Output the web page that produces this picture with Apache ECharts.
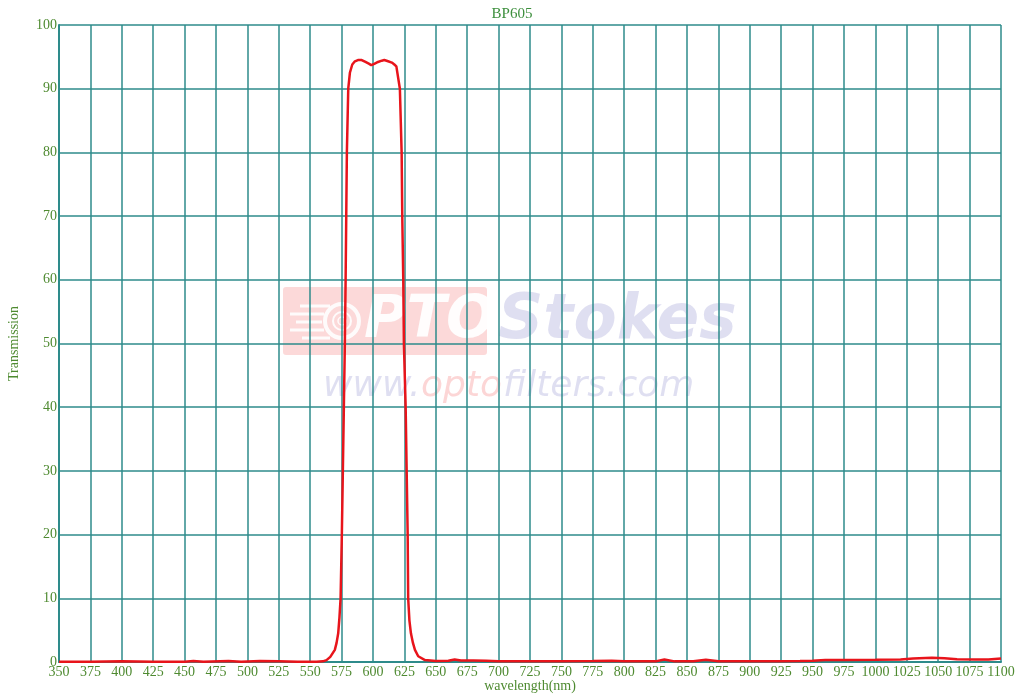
<!DOCTYPE html>
<html><head><meta charset="utf-8">
<script src="https://cdn.jsdelivr.net/npm/echarts@6/dist/echarts.min.js"></script>
<style>html,body{margin:0;padding:0;background:#fff}#c{width:1024px;height:698px}</style>
</head><body><div id="c"></div>
<script>
var chartTitle = 'BP605';
var xName = 'wavelength(nm)';
var yName = 'Transmission';
var wavelength = [350,375,400,425,450,457,465,485,495,510,525,540,555,560,563,566,569.6,571,572.3,573.3,574.2,575.2,576,576.8,577.6,578.2,578.7,579.2,580.3,581.6,583.5,585.6,588,591,594,597,598.6,601,604,607,609,612,615,617,618.6,619.6,621.4,622.8,623.3,624.1,624.6,626,626.8,627.6,628,629,630.2,631.8,633.4,636,641.4,650,660,665,670,680,690,700,725,750,775,790,800,825,832,840,855,865,875,900,925,940,950,960,975,1000,1020,1030,1045,1055,1065,1080,1090,1100];
var transmission = [0.05,0.05,0.1,0.05,0.05,0.15,0.05,0.15,0.05,0.15,0.1,0.05,0.05,0.1,0.3,0.8,1.9,3,4.5,7,10,20,30,40,50,60,70,80,90,92.5,93.8,94.3,94.5,94.5,94.2,93.9,93.7,93.9,94.2,94.4,94.5,94.3,94.1,93.8,93.5,93.2,90,80,70,60,50,40,30,20,10,6.5,4.5,3,1.9,0.9,0.3,0.15,0.2,0.4,0.25,0.25,0.2,0.1,0.1,0.1,0.15,0.2,0.1,0.1,0.4,0.1,0.1,0.35,0.1,0.1,0.1,0.15,0.2,0.3,0.3,0.35,0.4,0.55,0.65,0.6,0.45,0.4,0.4,0.55];
var xMin = 350, xMax = 1100, xStep = 25;
var yMin = 0, yMax = 100, yStep = 10;

var data = wavelength.map(function(w, i){ return [w, transmission[i]]; });
var gridColor = '#2e8b8b';
var labelColor = '#4e8a30';
var font = '"Liberation Serif", "DejaVu Serif", serif';
var wmBlue = 'rgba(140,140,205,0.28)';
var wmPink = 'rgba(245,120,120,0.3)';

var chart = echarts.init(document.getElementById('c'), null, {renderer:'canvas'});
chart.setOption({
  animation: false,
  title: {text: chartTitle, left: 'center', top: 2, textStyle: {color: '#3d8f3d', fontFamily: font, fontSize: 15, fontWeight: 'normal'}},
  grid: {left: 59, right: 23, top: 25, bottom: 36, containLabel: false, outerBoundsMode: 'none'},
  graphic: [
    {type: 'rect', z: -10, silent: true, shape: {x: 283, y: 287, width: 204, height: 68, r: 3}, style: {fill: 'rgba(245,120,120,0.28)'}},
    {type: 'circle', z: -9, silent: true, shape: {cx: 342, cy: 321, r: 17}, style: {fill: 'none', stroke: 'rgba(255,255,255,0.9)', lineWidth: 4}},
    {type: 'circle', z: -9, silent: true, shape: {cx: 342, cy: 321, r: 9}, style: {fill: 'none', stroke: 'rgba(255,255,255,0.9)', lineWidth: 2}},
    {type: 'circle', z: -9, silent: true, shape: {cx: 342, cy: 321, r: 4}, style: {fill: 'none', stroke: 'rgba(255,255,255,0.9)', lineWidth: 1.5}},
    {type: 'line', z: -9, silent: true, shape: {x1: 300, y1: 306, x2: 330, y2: 306}, style: {stroke: 'rgba(255,255,255,0.9)', lineWidth: 3}},
    {type: 'line', z: -9, silent: true, shape: {x1: 290, y1: 314, x2: 324, y2: 314}, style: {stroke: 'rgba(255,255,255,0.9)', lineWidth: 3}},
    {type: 'line', z: -9, silent: true, shape: {x1: 296, y1: 322, x2: 322, y2: 322}, style: {stroke: 'rgba(255,255,255,0.9)', lineWidth: 3}},
    {type: 'line', z: -9, silent: true, shape: {x1: 290, y1: 330, x2: 324, y2: 330}, style: {stroke: 'rgba(255,255,255,0.9)', lineWidth: 3}},
    {type: 'line', z: -9, silent: true, shape: {x1: 302, y1: 338, x2: 330, y2: 338}, style: {stroke: 'rgba(255,255,255,0.9)', lineWidth: 3}},
    {type: 'text', z: -9, silent: true, style: {x: 364, y: 322, text: 'PTO', fill: 'rgba(255,255,255,0.95)', font: 'italic bold 58px "DejaVu Sans", sans-serif', verticalAlign: 'middle'}},
    {type: 'text', z: -9, silent: true, style: {x: 498, y: 322, text: 'Stokes', fill: wmBlue, font: 'italic bold 63px "DejaVu Sans", sans-serif', verticalAlign: 'middle'}},
    {type: 'text', z: -9, silent: true, style: {x: 323, y: 387, text: 'www.', fill: wmBlue, font: 'italic 36px "DejaVu Sans", sans-serif', verticalAlign: 'middle'}},
    {type: 'text', z: -9, silent: true, style: {x: 421, y: 387, text: 'opto', fill: wmPink, font: 'italic 36px "DejaVu Sans", sans-serif', verticalAlign: 'middle'}},
    {type: 'text', z: -9, silent: true, style: {x: 503, y: 387, text: 'filters.com', fill: wmBlue, font: 'italic 36px "DejaVu Sans", sans-serif', verticalAlign: 'middle'}}
  ],
  xAxis: {
    type: 'value', min: xMin, max: xMax, interval: xStep,
    name: xName, nameLocation: 'middle', nameGap: 17, nameMoveOverlap: false,
    nameTextStyle: {color: labelColor, fontFamily: font, fontSize: 14},
    axisLine: {show: true, lineStyle: {color: gridColor, width: 2}},
    axisTick: {show: false},
    axisLabel: {color: labelColor, fontFamily: font, fontSize: 14, margin: 3, formatter: function(v){ return String(v); }},
    splitLine: {show: true, lineStyle: {color: gridColor, width: 1.5}}
  },
  yAxis: {
    type: 'value', min: yMin, max: yMax, interval: yStep,
    name: yName, nameLocation: 'middle', nameGap: 38, nameRotate: 90, nameMoveOverlap: false,
    nameTextStyle: {color: labelColor, fontFamily: font, fontSize: 14},
    axisLine: {show: true, lineStyle: {color: gridColor, width: 2}},
    axisTick: {show: false},
    axisLabel: {color: labelColor, fontFamily: font, fontSize: 14, margin: 2, verticalAlign: 'middle', formatter: function(v){ return String(v); }},
    splitLine: {show: true, lineStyle: {color: gridColor, width: 1.5}}
  },
  series: [{
    type: 'line', data: data, showSymbol: false, smooth: false, z: 5,
    lineStyle: {color: '#e8141b', width: 2.5}
  }]
});
</script></body></html>
